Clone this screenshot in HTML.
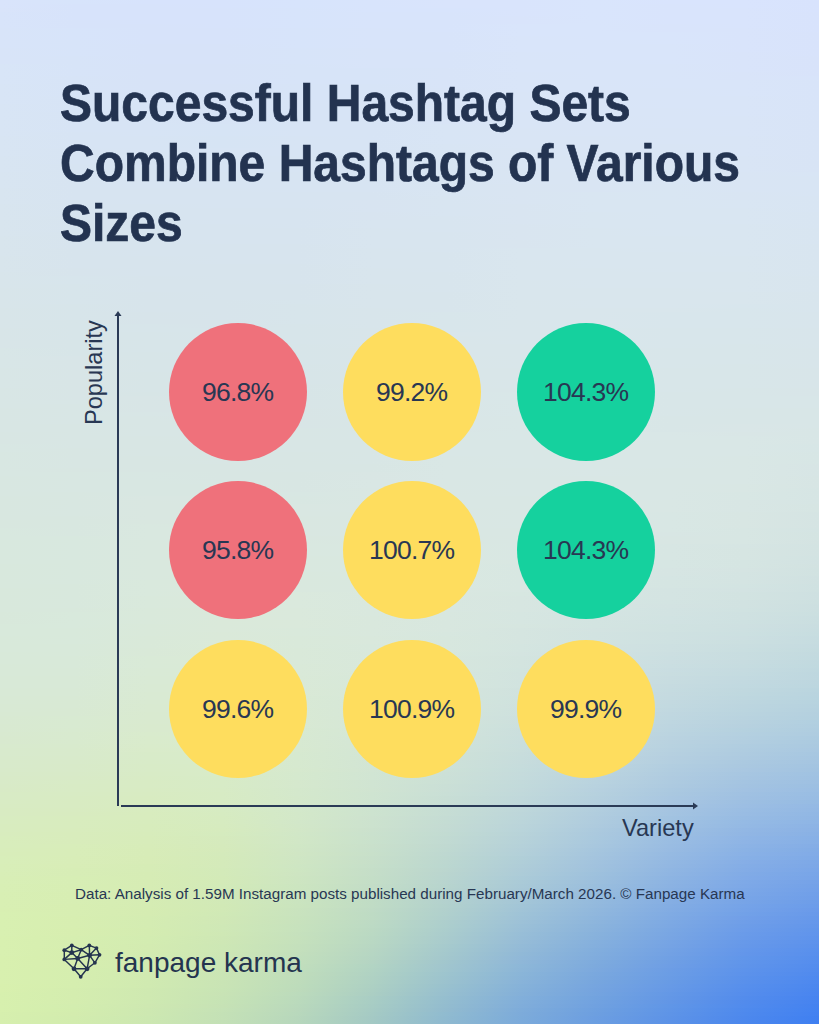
<!DOCTYPE html>
<html><head><meta charset="utf-8">
<style>
html,body{margin:0;padding:0;}
body{width:819px;height:1024px;position:relative;overflow:hidden;font-family:"Liberation Sans",sans-serif;color:#24344f;background:#d8e6e4;}
.bg{position:absolute;left:0;top:0;width:819px;height:1024px;}
.bg i{display:block;height:4px;}
.title{position:absolute;left:60px;top:74px;font-size:51px;font-weight:bold;line-height:60px;margin:0;transform:scaleX(0.941);transform-origin:0 0;white-space:nowrap;color:#233350;-webkit-text-stroke:0.7px #233350;}
.c{position:absolute;width:138px;height:138px;border-radius:50%;display:flex;align-items:center;justify-content:center;font-size:26.5px;letter-spacing:-0.8px;text-indent:-0.8px;color:#283753;}
.r{background:#ef717b}.y{background:#fedd5e}.g{background:#15d19e}
.axis{position:absolute;background:#2a3a56}
.lab{position:absolute;font-size:24px;white-space:nowrap;color:#283753;}
.foot{position:absolute;left:75px;top:885px;font-size:15.2px;white-space:nowrap;color:#283753;}
.logo{position:absolute;left:115px;top:947px;font-size:28px;white-space:nowrap;}
.icon{position:absolute;left:55px;top:935px;}
</style></head><body>
<div class="bg"><i style="background:linear-gradient(90deg,#d9e4fb,#d7e4fb,#d7e3fc,#d7e3fc,#d7e4fc,#d8e4fc,#d9e4fc,#d9e4fc,#d9e5fc,#d9e4fd,#d9e4fd,#d8e3fd)"></i><i style="background:linear-gradient(90deg,#d9e4fb,#d7e3fb,#d7e3fb,#d7e3fc,#d7e4fc,#d8e4fc,#d9e4fc,#d9e4fc,#d9e5fc,#d9e4fc,#d9e4fd,#d8e3fd)"></i><i style="background:linear-gradient(90deg,#d9e4fa,#d7e3fb,#d7e3fb,#d7e3fb,#d7e4fb,#d8e4fc,#d8e4fc,#d9e4fc,#d9e5fc,#d9e4fc,#d9e4fc,#d8e3fd)"></i><i style="background:linear-gradient(90deg,#d8e4fa,#d7e3fb,#d7e3fb,#d7e3fb,#d7e4fb,#d8e4fb,#d8e4fb,#d9e4fc,#d9e5fc,#d9e4fc,#d9e4fc,#d8e3fc)"></i><i style="background:linear-gradient(90deg,#d8e4fa,#d7e3fb,#d7e3fb,#d7e3fb,#d7e4fb,#d8e4fb,#d8e4fb,#d9e4fb,#d9e5fc,#d9e4fc,#d9e4fc,#d8e3fc)"></i><i style="background:linear-gradient(90deg,#d8e4fa,#d7e3fa,#d7e3fb,#d7e3fb,#d7e4fb,#d8e4fb,#d8e4fb,#d9e4fb,#d9e5fb,#d9e4fc,#d9e4fc,#d8e3fc)"></i><i style="background:linear-gradient(90deg,#d8e4fa,#d7e3fa,#d7e3fa,#d7e3fb,#d7e4fb,#d8e4fb,#d8e4fb,#d9e5fb,#d9e5fb,#d9e4fb,#d9e4fc,#d8e3fc)"></i><i style="background:linear-gradient(90deg,#d8e4f9,#d7e4fa,#d7e3fa,#d7e3fa,#d7e4fa,#d8e4fa,#d8e4fb,#d9e5fb,#d9e5fb,#d9e4fb,#d9e4fb,#d8e3fc)"></i><i style="background:linear-gradient(90deg,#d8e4f9,#d7e4fa,#d7e3fa,#d7e3fa,#d7e4fa,#d8e4fa,#d8e4fa,#d9e5fb,#d9e5fb,#d9e5fb,#d9e4fb,#d8e3fb)"></i><i style="background:linear-gradient(90deg,#d8e4f9,#d7e4fa,#d7e3fa,#d7e3fa,#d7e4fa,#d8e4fa,#d8e4fa,#d9e5fa,#d9e5fb,#d9e5fb,#d9e4fb,#d8e3fb)"></i><i style="background:linear-gradient(90deg,#d8e4f9,#d7e4f9,#d7e3fa,#d7e3fa,#d7e4fa,#d8e4fa,#d8e4fa,#d9e5fa,#d9e5fa,#d9e5fb,#d9e4fb,#d8e3fb)"></i><i style="background:linear-gradient(90deg,#d8e4f9,#d7e4f9,#d7e3f9,#d7e3f9,#d7e4fa,#d8e4fa,#d8e4fa,#d9e5fa,#d9e5fa,#d9e5fa,#d9e4fb,#d8e3fb)"></i><i style="background:linear-gradient(90deg,#d8e4f8,#d7e4f9,#d7e3f9,#d7e3f9,#d7e4f9,#d8e4f9,#d8e4fa,#d9e5fa,#d9e5fa,#d9e5fa,#d9e4fb,#d8e3fb)"></i><i style="background:linear-gradient(90deg,#d8e4f8,#d7e4f9,#d7e3f9,#d7e3f9,#d7e4f9,#d8e4f9,#d8e4f9,#d9e5f9,#d9e5fa,#d9e5fa,#d9e4fa,#d8e3fb)"></i><i style="background:linear-gradient(90deg,#d8e4f8,#d7e4f8,#d7e3f9,#d7e3f9,#d7e4f9,#d8e4f9,#d8e4f9,#d9e5f9,#d9e5fa,#d9e5fa,#d9e4fa,#d8e3fa)"></i><i style="background:linear-gradient(90deg,#d8e4f8,#d7e4f8,#d7e3f9,#d7e3f9,#d7e4f9,#d8e4f9,#d8e4f9,#d9e5f9,#d9e5f9,#d9e5fa,#d9e4fa,#d8e3fa)"></i><i style="background:linear-gradient(90deg,#d8e5f7,#d7e4f8,#d7e3f8,#d7e3f8,#d7e4f8,#d8e4f9,#d8e4f9,#d9e5f9,#d9e5f9,#d9e5f9,#d9e4fa,#d8e3fa)"></i><i style="background:linear-gradient(90deg,#d8e5f7,#d7e4f8,#d7e3f8,#d7e3f8,#d7e4f8,#d7e4f8,#d8e4f8,#d9e5f9,#d9e5f9,#d9e5f9,#d9e4fa,#d8e3fa)"></i><i style="background:linear-gradient(90deg,#d8e5f7,#d7e4f8,#d7e3f8,#d7e3f8,#d7e4f8,#d7e4f8,#d8e4f8,#d9e5f8,#d9e5f9,#d9e5f9,#d9e4f9,#d8e3fa)"></i><i style="background:linear-gradient(90deg,#d8e5f7,#d7e4f7,#d7e3f8,#d7e3f8,#d7e4f8,#d7e4f8,#d8e4f8,#d9e5f8,#d9e5f9,#d9e5f9,#d9e4f9,#d8e4fa)"></i><i style="background:linear-gradient(90deg,#d8e5f7,#d7e4f7,#d7e3f7,#d7e3f8,#d7e4f8,#d7e4f8,#d8e4f8,#d9e5f8,#d9e5f8,#d9e5f9,#d9e5f9,#d8e4f9)"></i><i style="background:linear-gradient(90deg,#d8e5f6,#d7e4f7,#d7e3f7,#d7e3f7,#d7e4f7,#d7e4f7,#d8e4f8,#d9e5f8,#d9e5f8,#d9e5f9,#d9e5f9,#d8e4f9)"></i><i style="background:linear-gradient(90deg,#d8e5f6,#d7e4f7,#d7e3f7,#d7e3f7,#d7e4f7,#d7e4f7,#d8e4f7,#d9e5f8,#d9e5f8,#d9e5f8,#d9e5f9,#d8e4f9)"></i><i style="background:linear-gradient(90deg,#d8e5f6,#d7e4f7,#d7e3f7,#d7e3f7,#d7e4f7,#d7e4f7,#d8e4f7,#d9e5f7,#d9e5f8,#d9e5f8,#d9e5f9,#d8e4f9)"></i><i style="background:linear-gradient(90deg,#d8e5f6,#d7e4f6,#d7e3f7,#d7e3f7,#d7e4f7,#d7e4f7,#d8e4f7,#d9e5f7,#d9e5f8,#d9e5f8,#d9e5f8,#d8e4f9)"></i><i style="background:linear-gradient(90deg,#d8e5f6,#d7e4f6,#d7e4f6,#d7e3f6,#d7e4f6,#d7e4f7,#d8e4f7,#d9e5f7,#d9e5f7,#d9e5f8,#d9e5f8,#d8e4f8)"></i><i style="background:linear-gradient(90deg,#d8e5f5,#d7e4f6,#d7e4f6,#d7e3f6,#d7e4f6,#d7e4f6,#d8e4f6,#d9e5f7,#d9e5f7,#d9e5f8,#d9e5f8,#d8e4f8)"></i><i style="background:linear-gradient(90deg,#d8e5f5,#d7e4f6,#d7e4f6,#d7e3f6,#d7e4f6,#d7e4f6,#d8e4f6,#d9e5f7,#d9e5f7,#d9e5f7,#d9e5f8,#d8e4f8)"></i><i style="background:linear-gradient(90deg,#d8e5f5,#d7e4f5,#d7e4f6,#d6e3f6,#d7e4f6,#d7e4f6,#d8e4f6,#d9e5f6,#d9e5f7,#d9e5f7,#d9e5f8,#d8e4f8)"></i><i style="background:linear-gradient(90deg,#d8e5f5,#d7e4f5,#d7e4f5,#d6e3f6,#d7e4f6,#d7e4f6,#d8e4f6,#d9e5f6,#d9e5f6,#d9e5f7,#d9e5f7,#d8e4f8)"></i><i style="background:linear-gradient(90deg,#d8e5f4,#d7e4f5,#d7e4f5,#d6e3f5,#d7e4f5,#d7e4f5,#d8e4f6,#d9e5f6,#d9e5f6,#d9e5f7,#d9e5f7,#d8e4f7)"></i><i style="background:linear-gradient(90deg,#d8e5f4,#d7e4f5,#d7e4f5,#d6e4f5,#d7e4f5,#d7e4f5,#d8e5f5,#d9e5f6,#d9e5f6,#d9e5f7,#d9e5f7,#d8e4f7)"></i><i style="background:linear-gradient(90deg,#d8e5f4,#d7e4f5,#d7e4f5,#d6e4f5,#d7e4f5,#d7e4f5,#d8e5f5,#d9e5f5,#d9e5f6,#d9e5f6,#d9e5f7,#d8e4f7)"></i><i style="background:linear-gradient(90deg,#d8e5f4,#d7e4f4,#d7e4f5,#d6e4f5,#d7e4f5,#d7e4f5,#d8e5f5,#d9e5f5,#d9e5f6,#d9e5f6,#d9e5f7,#d8e4f7)"></i><i style="background:linear-gradient(90deg,#d8e5f3,#d7e4f4,#d7e4f4,#d6e4f4,#d7e4f4,#d7e4f5,#d8e5f5,#d9e5f5,#d9e5f5,#d9e5f6,#d9e5f6,#d8e4f7)"></i><i style="background:linear-gradient(90deg,#d8e5f3,#d7e4f4,#d7e4f4,#d6e4f4,#d7e4f4,#d7e4f4,#d8e5f5,#d9e5f5,#d9e5f5,#d9e5f6,#d9e5f6,#d8e4f6)"></i><i style="background:linear-gradient(90deg,#d8e5f3,#d7e4f4,#d7e4f4,#d6e4f4,#d7e4f4,#d7e4f4,#d8e5f4,#d9e5f5,#d9e5f5,#d9e5f5,#d9e5f6,#d8e4f6)"></i><i style="background:linear-gradient(90deg,#d8e5f3,#d7e4f3,#d7e4f4,#d7e4f4,#d7e4f4,#d7e4f4,#d8e5f4,#d9e5f4,#d9e5f5,#d9e5f5,#d9e5f6,#d8e4f6)"></i><i style="background:linear-gradient(90deg,#d8e5f3,#d7e4f3,#d7e4f3,#d7e4f4,#d7e4f4,#d7e4f4,#d8e5f4,#d9e5f4,#d9e5f5,#d9e5f5,#d9e5f6,#d8e4f6)"></i><i style="background:linear-gradient(90deg,#d8e5f2,#d7e4f3,#d7e4f3,#d7e4f3,#d7e4f3,#d7e4f3,#d8e5f4,#d9e5f4,#d9e5f4,#d9e5f5,#d9e5f5,#d8e4f6)"></i><i style="background:linear-gradient(90deg,#d8e5f2,#d7e4f3,#d7e4f3,#d7e4f3,#d7e4f3,#d7e4f3,#d8e5f3,#d9e5f4,#d9e5f4,#d9e5f5,#d9e5f5,#d8e4f5)"></i><i style="background:linear-gradient(90deg,#d8e5f2,#d7e4f2,#d7e4f3,#d7e4f3,#d7e4f3,#d7e4f3,#d8e5f3,#d9e5f4,#d9e5f4,#d9e6f4,#d9e5f5,#d8e4f5)"></i><i style="background:linear-gradient(90deg,#d8e5f2,#d7e4f2,#d7e4f2,#d7e4f3,#d7e4f3,#d7e4f3,#d8e5f3,#d9e5f3,#d9e5f4,#d9e6f4,#d9e5f5,#d8e4f5)"></i><i style="background:linear-gradient(90deg,#d8e5f1,#d7e4f2,#d7e4f2,#d7e4f2,#d7e4f2,#d7e4f3,#d8e5f3,#d9e5f3,#d9e5f3,#d9e6f4,#d9e5f4,#d8e5f5)"></i><i style="background:linear-gradient(90deg,#d8e5f1,#d7e4f2,#d7e4f2,#d7e4f2,#d7e4f2,#d7e4f2,#d8e5f3,#d9e5f3,#d9e5f3,#d9e6f4,#d9e5f4,#d8e5f4)"></i><i style="background:linear-gradient(90deg,#d8e5f1,#d7e4f1,#d7e4f2,#d7e4f2,#d7e4f2,#d7e4f2,#d8e5f2,#d9e5f3,#d9e5f3,#d9e6f4,#d9e5f4,#d8e5f4)"></i><i style="background:linear-gradient(90deg,#d8e5f1,#d7e4f1,#d7e4f2,#d7e4f2,#d7e4f2,#d7e4f2,#d8e5f2,#d9e5f2,#d9e5f3,#d9e6f3,#d9e5f4,#d8e5f4)"></i><i style="background:linear-gradient(90deg,#d8e5f0,#d7e4f1,#d7e4f1,#d7e4f1,#d7e4f2,#d7e4f2,#d8e5f2,#d9e5f2,#d9e5f3,#d9e6f3,#d9e5f4,#d8e5f4)"></i><i style="background:linear-gradient(90deg,#d8e5f0,#d7e4f1,#d7e4f1,#d7e4f1,#d7e4f1,#d7e4f1,#d8e5f2,#d9e5f2,#d9e6f2,#d9e6f3,#d9e5f3,#d8e5f4)"></i><i style="background:linear-gradient(90deg,#d8e5f0,#d7e4f1,#d7e4f1,#d7e4f1,#d7e4f1,#d7e4f1,#d8e5f1,#d9e5f2,#d9e6f2,#d9e6f3,#d9e5f3,#d8e5f3)"></i><i style="background:linear-gradient(90deg,#d8e5f0,#d7e4f0,#d7e4f1,#d7e4f1,#d7e4f1,#d8e4f1,#d8e5f1,#d9e5f2,#d9e6f2,#d9e6f2,#d9e6f3,#d8e5f3)"></i><i style="background:linear-gradient(90deg,#d8e5ef,#d7e4f0,#d7e4f0,#d7e4f1,#d7e4f1,#d8e4f1,#d8e5f1,#d9e5f1,#d9e6f2,#d9e6f2,#d9e6f3,#d8e5f3)"></i><i style="background:linear-gradient(90deg,#d8e5ef,#d7e4f0,#d7e4f0,#d7e4f0,#d7e4f0,#d8e4f1,#d8e5f1,#d9e5f1,#d9e6f2,#d9e6f2,#d9e6f2,#d8e5f3)"></i><i style="background:linear-gradient(90deg,#d8e5ef,#d7e4f0,#d7e4f0,#d7e4f0,#d7e4f0,#d8e4f0,#d8e5f1,#d9e5f1,#d9e6f1,#d9e6f2,#d9e6f2,#d8e5f2)"></i><i style="background:linear-gradient(90deg,#d8e5ef,#d7e4ef,#d7e4f0,#d7e4f0,#d7e4f0,#d8e4f0,#d8e5f0,#d9e5f1,#d9e6f1,#d9e6f2,#d9e6f2,#d8e5f2)"></i><i style="background:linear-gradient(90deg,#d8e5ee,#d7e4ef,#d7e4ef,#d7e4f0,#d7e4f0,#d8e5f0,#d8e5f0,#d9e5f1,#d9e6f1,#d9e6f1,#d9e6f2,#d8e5f2)"></i><i style="background:linear-gradient(90deg,#d8e5ee,#d7e4ef,#d7e4ef,#d7e4ef,#d7e4f0,#d8e5f0,#d8e5f0,#d9e5f0,#d9e6f1,#d9e6f1,#d9e6f1,#d8e5f2)"></i><i style="background:linear-gradient(90deg,#d8e5ee,#d7e4ef,#d7e4ef,#d7e4ef,#d7e4ef,#d8e5ef,#d8e5f0,#d9e5f0,#d9e6f0,#d9e6f1,#d9e6f1,#d8e5f1)"></i><i style="background:linear-gradient(90deg,#d8e5ee,#d7e4ee,#d7e4ef,#d7e4ef,#d7e4ef,#d8e5ef,#d8e5ef,#d9e5f0,#d9e6f0,#d9e6f1,#d9e6f1,#d8e5f1)"></i><i style="background:linear-gradient(90deg,#d8e5ed,#d7e4ee,#d7e4ef,#d7e4ef,#d7e4ef,#d8e5ef,#d8e5ef,#d9e5f0,#d9e6f0,#d9e6f0,#d9e6f1,#d8e5f1)"></i><i style="background:linear-gradient(90deg,#d8e5ed,#d7e4ee,#d7e4ee,#d7e4ef,#d7e4ef,#d8e5ef,#d8e5ef,#d9e5ef,#d9e6f0,#d9e6f0,#d9e6f0,#d8e5f1)"></i><i style="background:linear-gradient(90deg,#d8e5ed,#d7e4ee,#d7e4ee,#d7e4ee,#d7e4ee,#d8e5ef,#d8e5ef,#d9e5ef,#d9e6f0,#d9e6f0,#d9e6f0,#d8e5f0)"></i><i style="background:linear-gradient(90deg,#d8e5ed,#d7e4ed,#d7e4ee,#d7e4ee,#d7e4ee,#d8e5ee,#d8e5ef,#d9e6ef,#d9e6ef,#d9e6f0,#d9e6f0,#d8e5f0)"></i><i style="background:linear-gradient(90deg,#d8e5ed,#d7e4ed,#d7e4ee,#d7e4ee,#d7e4ee,#d8e5ee,#d8e5ee,#d9e6ef,#d9e6ef,#d9e6ef,#d9e6f0,#d8e5f0)"></i><i style="background:linear-gradient(90deg,#d8e5ec,#d7e4ed,#d7e4ed,#d7e4ee,#d7e4ee,#d8e5ee,#d8e5ee,#d9e6ef,#d9e6ef,#d9e6ef,#d9e6ef,#d8e5f0)"></i><i style="background:linear-gradient(90deg,#d8e5ec,#d7e4ed,#d7e4ed,#d7e4ee,#d7e4ee,#d8e5ee,#d8e5ee,#d9e6ee,#d9e6ef,#d9e6ef,#d9e6ef,#d8e5ef)"></i><i style="background:linear-gradient(90deg,#d8e5ec,#d7e4ed,#d7e4ed,#d7e4ed,#d7e4ed,#d8e5ee,#d8e5ee,#d9e6ee,#d9e6ef,#d9e6ef,#d9e6ef,#d8e5ef)"></i><i style="background:linear-gradient(90deg,#d8e5ec,#d7e4ec,#d7e4ed,#d7e4ed,#d7e4ed,#d8e5ed,#d8e5ee,#d9e6ee,#d9e6ee,#d9e6ef,#d9e6ef,#d8e5ef)"></i><i style="background:linear-gradient(90deg,#d8e5eb,#d7e4ec,#d7e4ed,#d7e4ed,#d7e4ed,#d8e5ed,#d8e5ed,#d9e6ee,#d9e6ee,#d9e6ee,#d9e6ee,#d8e5ef)"></i><i style="background:linear-gradient(90deg,#d8e5eb,#d7e5ec,#d7e4ec,#d7e4ed,#d7e4ed,#d8e5ed,#d8e5ed,#d9e6ee,#d9e6ee,#d9e6ee,#d9e6ee,#d8e5ee)"></i><i style="background:linear-gradient(90deg,#d8e5eb,#d7e5ec,#d7e4ec,#d7e4ec,#d7e4ed,#d8e5ed,#d8e5ed,#d9e6ed,#d9e6ee,#d9e6ee,#d9e6ee,#d8e5ee)"></i><i style="background:linear-gradient(90deg,#d8e5eb,#d7e5eb,#d7e4ec,#d7e4ec,#d7e4ec,#d8e5ec,#d8e5ed,#d9e6ed,#d9e6ee,#d9e6ee,#d9e6ee,#d8e5ee)"></i><i style="background:linear-gradient(90deg,#d8e5ea,#d7e5eb,#d7e4ec,#d7e4ec,#d7e4ec,#d8e5ec,#d8e5ed,#d9e6ed,#d9e6ed,#d9e6ed,#d9e6ee,#d8e5ee)"></i><i style="background:linear-gradient(90deg,#d8e5ea,#d7e5eb,#d7e4eb,#d7e4ec,#d7e4ec,#d8e5ec,#d8e5ec,#d9e6ed,#d9e6ed,#d9e6ed,#d9e6ed,#d8e5ed)"></i><i style="background:linear-gradient(90deg,#d8e5ea,#d7e5eb,#d7e4eb,#d7e4ec,#d7e4ec,#d8e5ec,#d8e5ec,#d9e6ed,#d9e6ed,#d9e6ed,#d9e6ed,#d8e5ed)"></i><i style="background:linear-gradient(90deg,#d8e5ea,#d7e5eb,#d7e4eb,#d7e4eb,#d7e5ec,#d8e5ec,#d8e5ec,#d9e6ec,#d9e6ed,#d9e6ed,#d9e6ed,#d8e5ed)"></i><i style="background:linear-gradient(90deg,#d8e5ea,#d7e5ea,#d7e4eb,#d7e4eb,#d7e5eb,#d8e5ec,#d8e5ec,#d9e6ec,#d9e6ed,#d9e6ed,#d8e6ed,#d8e5ed)"></i><i style="background:linear-gradient(90deg,#d8e5e9,#d7e5ea,#d7e4eb,#d7e4eb,#d7e5eb,#d8e5eb,#d8e5ec,#d9e6ec,#d9e6ec,#d9e6ec,#d8e6ec,#d8e5ed)"></i><i style="background:linear-gradient(90deg,#d8e5e9,#d7e5ea,#d7e4ea,#d7e4eb,#d7e5eb,#d8e5eb,#d8e6eb,#d9e6ec,#d9e6ec,#d8e6ec,#d8e6ec,#d8e5ec)"></i><i style="background:linear-gradient(90deg,#d8e5e9,#d7e5ea,#d7e4ea,#d7e4eb,#d7e5eb,#d8e5eb,#d8e6eb,#d9e6ec,#d9e6ec,#d8e6ec,#d8e6ec,#d8e5ec)"></i><i style="background:linear-gradient(90deg,#d8e5e9,#d7e5e9,#d7e4ea,#d7e4ea,#d7e5eb,#d8e5eb,#d8e6eb,#d9e6eb,#d9e6ec,#d8e6ec,#d8e6ec,#d8e5ec)"></i><i style="background:linear-gradient(90deg,#d8e5e9,#d7e5e9,#d7e5ea,#d7e4ea,#d7e5ea,#d8e5eb,#d8e6eb,#d9e6eb,#d9e6ec,#d8e6ec,#d8e6ec,#d8e5ec)"></i><i style="background:linear-gradient(90deg,#d8e5e8,#d7e5e9,#d7e5ea,#d7e5ea,#d7e5ea,#d8e5ea,#d8e6eb,#d9e6eb,#d9e6eb,#d8e6eb,#d8e6eb,#d8e5eb)"></i><i style="background:linear-gradient(90deg,#d8e5e8,#d7e5e9,#d7e5e9,#d7e5ea,#d7e5ea,#d8e5ea,#d9e6eb,#d9e6eb,#d9e6eb,#d8e6eb,#d8e6eb,#d8e5eb)"></i><i style="background:linear-gradient(90deg,#d8e5e8,#d7e5e9,#d7e5e9,#d7e5ea,#d7e5ea,#d8e5ea,#d9e6ea,#d9e6eb,#d9e6eb,#d8e6eb,#d8e6eb,#d8e5eb)"></i><i style="background:linear-gradient(90deg,#d8e5e8,#d7e5e8,#d7e5e9,#d7e5e9,#d7e5ea,#d8e5ea,#d9e6ea,#d9e6eb,#d9e6eb,#d8e6eb,#d8e6eb,#d8e5eb)"></i><i style="background:linear-gradient(90deg,#d8e5e8,#d7e5e8,#d7e5e9,#d7e5e9,#d7e5e9,#d8e5ea,#d9e6ea,#d9e6ea,#d9e6eb,#d8e6eb,#d8e6ea,#d8e5eb)"></i><i style="background:linear-gradient(90deg,#d8e6e7,#d7e5e8,#d7e5e9,#d7e5e9,#d7e5e9,#d8e5e9,#d9e6ea,#d9e6ea,#d9e6ea,#d8e6ea,#d8e6ea,#d8e5ea)"></i><i style="background:linear-gradient(90deg,#d8e6e7,#d7e5e8,#d7e5e8,#d7e5e9,#d7e5e9,#d8e5e9,#d9e6ea,#d9e6ea,#d9e6ea,#d8e6ea,#d8e6ea,#d8e5ea)"></i><i style="background:linear-gradient(90deg,#d8e6e7,#d8e5e8,#d7e5e8,#d7e5e9,#d7e5e9,#d8e5e9,#d9e6e9,#d9e6ea,#d9e6ea,#d8e6ea,#d8e6ea,#d8e5ea)"></i><i style="background:linear-gradient(90deg,#d8e6e7,#d8e5e7,#d7e5e8,#d7e5e8,#d7e5e9,#d8e5e9,#d9e6e9,#d9e6ea,#d9e6ea,#d8e6ea,#d8e6ea,#d8e5ea)"></i><i style="background:linear-gradient(90deg,#d8e6e7,#d8e5e7,#d7e5e8,#d7e5e8,#d7e5e8,#d8e5e9,#d9e6e9,#d9e6ea,#d9e6ea,#d8e6ea,#d8e6e9,#d8e5ea)"></i><i style="background:linear-gradient(90deg,#d8e6e6,#d8e5e7,#d7e5e8,#d7e5e8,#d7e5e8,#d8e5e9,#d9e6e9,#d9e6e9,#d9e6ea,#d8e6e9,#d8e6e9,#d8e5e9)"></i><i style="background:linear-gradient(90deg,#d8e6e6,#d8e5e7,#d7e5e7,#d7e5e8,#d7e5e8,#d8e5e8,#d9e6e9,#d9e6e9,#d9e6e9,#d8e6e9,#d8e6e9,#d8e5e9)"></i><i style="background:linear-gradient(90deg,#d8e6e6,#d8e5e7,#d7e5e7,#d7e5e8,#d7e5e8,#d8e5e8,#d9e6e9,#d9e6e9,#d9e6e9,#d8e6e9,#d8e6e9,#d8e5e9)"></i><i style="background:linear-gradient(90deg,#d8e6e6,#d8e5e6,#d7e5e7,#d7e5e7,#d7e5e8,#d8e5e8,#d9e6e8,#d9e6e9,#d9e6e9,#d8e6e9,#d8e6e9,#d8e5e9)"></i><i style="background:linear-gradient(90deg,#d8e6e6,#d8e5e6,#d7e5e7,#d7e5e7,#d7e5e7,#d8e5e8,#d9e6e8,#d9e6e9,#d9e6e9,#d8e6e9,#d8e6e9,#d8e5e9)"></i><i style="background:linear-gradient(90deg,#d8e6e5,#d8e5e6,#d7e5e7,#d7e5e7,#d7e5e7,#d8e6e8,#d9e6e8,#d9e6e8,#d9e6e9,#d8e6e9,#d8e6e8,#d8e5e8)"></i><i style="background:linear-gradient(90deg,#d8e6e5,#d8e5e6,#d7e5e6,#d7e5e7,#d7e5e7,#d8e6e7,#d9e6e8,#d9e7e8,#d9e6e9,#d8e6e8,#d8e6e8,#d8e5e8)"></i><i style="background:linear-gradient(90deg,#d8e6e5,#d8e5e6,#d8e5e6,#d7e5e7,#d7e5e7,#d8e6e7,#d9e6e8,#d9e7e8,#d9e7e8,#d8e6e8,#d8e6e8,#d8e6e8)"></i><i style="background:linear-gradient(90deg,#d8e6e5,#d8e6e6,#d8e5e6,#d7e5e6,#d8e5e7,#d8e6e7,#d9e6e8,#d9e7e8,#d9e7e8,#d8e6e8,#d8e6e8,#d8e6e8)"></i><i style="background:linear-gradient(90deg,#d8e6e5,#d8e6e5,#d8e5e6,#d7e5e6,#d8e5e7,#d8e6e7,#d9e6e7,#d9e7e8,#d9e7e8,#d8e6e8,#d8e6e8,#d8e6e8)"></i><i style="background:linear-gradient(90deg,#d8e6e4,#d8e6e5,#d8e5e6,#d8e5e6,#d8e5e6,#d8e6e7,#d9e6e7,#d9e7e8,#d9e7e8,#d8e6e8,#d8e6e7,#d8e6e7)"></i><i style="background:linear-gradient(90deg,#d8e6e4,#d8e6e5,#d8e6e6,#d8e5e6,#d8e5e6,#d8e6e7,#d9e6e7,#d9e7e8,#d9e7e8,#d8e6e8,#d8e6e7,#d8e6e7)"></i><i style="background:linear-gradient(90deg,#d8e6e4,#d8e6e5,#d8e6e5,#d8e5e6,#d8e5e6,#d8e6e6,#d9e6e7,#d9e7e7,#d9e7e8,#d8e6e7,#d8e6e7,#d8e6e7)"></i><i style="background:linear-gradient(90deg,#d8e6e4,#d8e6e5,#d8e6e5,#d8e6e6,#d8e5e6,#d8e6e6,#d9e6e7,#d9e7e7,#d9e7e7,#d8e6e7,#d8e6e7,#d8e6e7)"></i><i style="background:linear-gradient(90deg,#d8e6e4,#d8e6e4,#d8e6e5,#d8e6e5,#d8e5e6,#d8e6e6,#d9e6e7,#d9e7e7,#d9e7e7,#d8e6e7,#d9e6e7,#d8e6e7)"></i><i style="background:linear-gradient(90deg,#d8e6e4,#d8e6e4,#d8e6e5,#d8e6e5,#d8e6e5,#d8e6e6,#d9e6e6,#d9e7e7,#d9e7e7,#d8e6e7,#d9e6e7,#d8e6e6)"></i><i style="background:linear-gradient(90deg,#d8e6e3,#d8e6e4,#d8e6e5,#d8e6e5,#d8e6e5,#d8e6e6,#d9e7e6,#d9e7e7,#d9e7e7,#d9e7e7,#d9e6e6,#d8e6e6)"></i><i style="background:linear-gradient(90deg,#d8e6e3,#d8e6e4,#d8e6e4,#d8e6e5,#d8e6e5,#d8e6e6,#d9e7e6,#d9e7e7,#d9e7e7,#d9e7e7,#d9e7e6,#d8e6e6)"></i><i style="background:linear-gradient(90deg,#d8e6e3,#d8e6e4,#d8e6e4,#d8e6e5,#d8e6e5,#d8e6e5,#d9e7e6,#d9e7e6,#d9e7e7,#d9e7e6,#d9e7e6,#d8e6e6)"></i><i style="background:linear-gradient(90deg,#d8e7e3,#d8e6e4,#d8e6e4,#d8e6e4,#d8e6e5,#d8e6e5,#d9e7e6,#d9e7e6,#d9e7e6,#d9e7e6,#d9e7e6,#d7e6e6)"></i><i style="background:linear-gradient(90deg,#d8e7e3,#d8e6e3,#d8e6e4,#d8e6e4,#d8e6e5,#d8e6e5,#d9e7e6,#d9e7e6,#d9e7e6,#d9e7e6,#d9e7e6,#d7e6e6)"></i><i style="background:linear-gradient(90deg,#d8e7e2,#d8e6e3,#d8e6e4,#d8e6e4,#d8e6e4,#d8e6e5,#d9e7e6,#d9e7e6,#d9e7e6,#d9e7e6,#d9e7e6,#d7e6e5)"></i><i style="background:linear-gradient(90deg,#d8e7e2,#d8e6e3,#d8e6e3,#d8e6e4,#d8e6e4,#d8e6e5,#d9e7e5,#d9e7e6,#d9e7e6,#d9e7e6,#d9e7e5,#d7e6e5)"></i><i style="background:linear-gradient(90deg,#d8e7e2,#d8e6e3,#d8e6e3,#d8e6e4,#d8e6e4,#d8e6e5,#d9e7e5,#d9e7e6,#d9e7e6,#d9e7e6,#d9e7e5,#d7e6e5)"></i><i style="background:linear-gradient(90deg,#d8e7e2,#d8e6e3,#d8e6e3,#d8e6e3,#d8e6e4,#d8e6e4,#d9e7e5,#d9e7e6,#d9e7e6,#d9e7e6,#d9e7e5,#d7e5e5)"></i><i style="background:linear-gradient(90deg,#d8e7e2,#d8e6e2,#d8e6e3,#d8e6e3,#d8e6e4,#d8e6e4,#d9e7e5,#d9e7e5,#d9e7e6,#d9e7e5,#d9e7e5,#d7e5e5)"></i><i style="background:linear-gradient(90deg,#d8e7e2,#d8e7e2,#d8e7e3,#d8e6e3,#d8e6e3,#d9e6e4,#d9e7e5,#d9e7e5,#d9e7e6,#d9e7e5,#d9e7e5,#d7e5e5)"></i><i style="background:linear-gradient(90deg,#d8e7e1,#d8e7e2,#d8e7e3,#d8e6e3,#d8e6e3,#d9e6e4,#d9e7e5,#d9e7e5,#d9e7e5,#d9e7e5,#d9e7e5,#d7e5e4)"></i><i style="background:linear-gradient(90deg,#d8e7e1,#d8e7e2,#d8e7e2,#d8e7e3,#d8e6e3,#d9e7e4,#d9e7e4,#d9e7e5,#d9e7e5,#d9e7e5,#d9e7e5,#d7e5e4)"></i><i style="background:linear-gradient(90deg,#d8e7e1,#d8e7e2,#d8e7e2,#d8e7e2,#d8e6e3,#d9e7e4,#d9e7e4,#d9e7e5,#d9e7e5,#d9e7e5,#d9e7e4,#d7e5e4)"></i><i style="background:linear-gradient(90deg,#d8e7e1,#d8e7e2,#d8e7e2,#d8e7e2,#d8e6e3,#d9e7e3,#d9e7e4,#d9e7e5,#d9e7e5,#d9e7e5,#d9e7e4,#d6e5e4)"></i><i style="background:linear-gradient(90deg,#d8e7e1,#d8e7e1,#d8e7e2,#d8e7e2,#d8e7e3,#d9e7e3,#d9e7e4,#d9e7e5,#d9e7e5,#d9e7e5,#d8e7e4,#d6e5e4)"></i><i style="background:linear-gradient(90deg,#d8e7e0,#d8e7e1,#d9e7e2,#d9e7e2,#d8e7e2,#d9e7e3,#d9e7e4,#d9e7e4,#d9e7e5,#d9e7e5,#d8e7e4,#d6e5e4)"></i><i style="background:linear-gradient(90deg,#d8e7e0,#d8e7e1,#d9e7e1,#d9e7e2,#d8e7e2,#d9e7e3,#d9e7e4,#d9e7e4,#d9e7e5,#d9e7e4,#d8e6e4,#d6e5e4)"></i><i style="background:linear-gradient(90deg,#d8e7e0,#d8e7e1,#d9e7e1,#d9e7e1,#d9e7e2,#d9e7e3,#d9e7e4,#d9e7e4,#d9e7e5,#d9e7e4,#d8e6e4,#d6e5e3)"></i><i style="background:linear-gradient(90deg,#d8e7e0,#d8e7e1,#d9e7e1,#d9e7e1,#d9e7e2,#d9e7e3,#d9e7e3,#d9e7e4,#d9e7e4,#d9e7e4,#d8e6e4,#d6e5e3)"></i><i style="background:linear-gradient(90deg,#d8e7e0,#d8e7e1,#d9e7e1,#d9e7e1,#d9e7e2,#d9e7e2,#d9e7e3,#d9e7e4,#d9e7e4,#d8e7e4,#d8e6e3,#d5e4e3)"></i><i style="background:linear-gradient(90deg,#d8e7e0,#d8e7e0,#d9e7e1,#d9e7e1,#d9e7e1,#d9e7e2,#d9e7e3,#d9e7e4,#d9e7e4,#d8e7e4,#d8e6e3,#d5e4e3)"></i><i style="background:linear-gradient(90deg,#d8e7df,#d8e7e0,#d9e7e0,#d9e7e1,#d9e7e1,#d9e7e2,#d9e7e3,#d9e7e4,#d9e7e4,#d8e7e4,#d8e6e3,#d5e4e3)"></i><i style="background:linear-gradient(90deg,#d8e7df,#d8e7e0,#d9e8e0,#d9e7e0,#d9e7e1,#d9e7e2,#d9e7e3,#d9e7e4,#d9e7e4,#d8e7e4,#d8e6e3,#d5e4e3)"></i><i style="background:linear-gradient(90deg,#d8e8df,#d8e7e0,#d9e8e0,#d9e8e0,#d9e7e1,#d9e7e2,#d9e7e3,#d9e7e3,#d9e7e4,#d8e7e4,#d7e6e3,#d4e4e3)"></i><i style="background:linear-gradient(90deg,#d8e8df,#d8e7e0,#d9e8e0,#d9e8e0,#d9e7e1,#d9e7e2,#d9e7e3,#d9e7e3,#d8e7e4,#d8e6e4,#d7e6e3,#d4e4e2)"></i><i style="background:linear-gradient(90deg,#d8e8df,#d8e8df,#d9e8e0,#d9e8e0,#d9e7e0,#d9e7e1,#d9e7e2,#d9e7e3,#d8e7e4,#d8e6e3,#d7e6e3,#d4e4e2)"></i><i style="background:linear-gradient(90deg,#d8e8de,#d8e8df,#d9e8df,#d9e8e0,#d9e8e0,#d9e7e1,#d9e7e2,#d9e7e3,#d8e7e3,#d8e6e3,#d7e6e3,#d4e3e2)"></i><i style="background:linear-gradient(90deg,#d8e8de,#d8e8df,#d9e8df,#d9e8df,#d9e8e0,#d9e8e1,#d9e8e2,#d9e7e3,#d8e7e3,#d7e6e3,#d6e5e3,#d3e3e2)"></i><i style="background:linear-gradient(90deg,#d8e8de,#d8e8df,#d9e8df,#d9e8df,#d9e8e0,#d9e8e1,#d9e8e2,#d9e7e3,#d8e7e3,#d7e6e3,#d6e5e2,#d3e3e2)"></i><i style="background:linear-gradient(90deg,#d8e8de,#d8e8df,#d9e8df,#d9e8df,#d9e8e0,#d9e8e1,#d9e8e2,#d9e7e3,#d8e7e3,#d7e6e3,#d6e5e2,#d3e3e2)"></i><i style="background:linear-gradient(90deg,#d8e8de,#d8e8df,#d9e8df,#d9e8df,#d9e8df,#d9e8e0,#d9e8e2,#d9e7e3,#d8e6e3,#d7e6e3,#d6e5e2,#d2e3e2)"></i><i style="background:linear-gradient(90deg,#d8e8de,#d8e8de,#d9e8de,#d9e8de,#d9e8df,#d9e8e0,#d9e8e1,#d9e7e2,#d7e6e3,#d6e6e3,#d5e5e2,#d2e2e2)"></i><i style="background:linear-gradient(90deg,#d8e8dd,#d8e8de,#d9e8de,#d9e8de,#d9e8df,#d9e8e0,#d9e8e1,#d8e7e2,#d7e6e3,#d6e6e3,#d5e5e2,#d2e2e1)"></i><i style="background:linear-gradient(90deg,#d8e8dd,#d8e8de,#d9e8de,#d9e8de,#d9e8df,#d9e8e0,#d9e8e1,#d8e7e2,#d7e6e3,#d6e5e3,#d5e4e2,#d1e2e1)"></i><i style="background:linear-gradient(90deg,#d8e8dd,#d8e8de,#d9e8de,#d9e8de,#d9e8de,#d9e8e0,#d9e8e1,#d8e7e2,#d7e6e3,#d6e5e3,#d4e4e2,#d1e2e1)"></i><i style="background:linear-gradient(90deg,#d8e8dd,#d8e8de,#d9e8de,#d9e8dd,#d9e8de,#d9e8df,#d9e8e1,#d8e7e2,#d7e6e3,#d5e5e3,#d4e4e2,#d0e1e1)"></i><i style="background:linear-gradient(90deg,#d8e8dd,#d8e8de,#d9e9dd,#d9e9dd,#d9e8de,#d9e8df,#d9e8e1,#d8e7e2,#d6e6e2,#d5e5e2,#d4e4e2,#d0e1e1)"></i><i style="background:linear-gradient(90deg,#d8e8dd,#d8e8dd,#d9e9dd,#dae9dd,#d9e8de,#d9e8df,#d9e8e1,#d8e7e2,#d6e6e2,#d5e5e2,#d3e4e2,#cfe1e1)"></i><i style="background:linear-gradient(90deg,#d8e8dc,#d8e8dd,#d9e9dd,#dae9dd,#d9e8de,#d9e8df,#d9e7e0,#d8e7e2,#d6e5e2,#d4e4e2,#d3e3e2,#cfe1e1)"></i><i style="background:linear-gradient(90deg,#d8e8dc,#d8e8dd,#d9e9dd,#dae9dc,#dae9dd,#d9e8df,#d9e7e0,#d7e7e1,#d6e5e2,#d4e4e2,#d2e3e1,#cee0e1)"></i><i style="background:linear-gradient(90deg,#d8e8dc,#d8e8dd,#d9e9dc,#dae9dc,#dae9dd,#d9e8df,#d9e7e0,#d7e6e1,#d5e5e2,#d4e4e2,#d2e3e1,#cee0e1)"></i><i style="background:linear-gradient(90deg,#d8e8dc,#d8e8dd,#d9e9dc,#dae9dc,#dae9dd,#d9e8de,#d8e7e0,#d7e6e1,#d5e5e2,#d3e4e2,#d1e2e1,#cde0e0)"></i><i style="background:linear-gradient(90deg,#d8e8dc,#d8e8dd,#d9e9dc,#dae9dc,#dae9dd,#d9e8de,#d8e7e0,#d7e6e1,#d5e5e2,#d3e3e2,#d1e2e1,#ccdfe0)"></i><i style="background:linear-gradient(90deg,#d8e8dc,#d8e8dc,#d9e9db,#dae9db,#dae9dc,#d9e8de,#d8e7e0,#d7e6e1,#d4e5e2,#d2e3e2,#d0e2e1,#ccdfe0)"></i><i style="background:linear-gradient(90deg,#d8e8db,#d8e9dc,#d9e9db,#dae9db,#dae9dc,#d9e8de,#d8e7df,#d6e6e1,#d4e4e2,#d2e3e2,#cfe1e1,#cbdfe0)"></i><i style="background:linear-gradient(90deg,#d8e8db,#d8e9dc,#d9e9db,#dae9db,#dae9dc,#d9e8dd,#d8e7df,#d6e6e1,#d4e4e1,#d1e3e2,#cfe1e1,#cadee0)"></i><i style="background:linear-gradient(90deg,#d8e8db,#d8e9dc,#d9e9db,#dae9da,#dae9db,#d9e8dd,#d8e7df,#d6e6e1,#d3e4e1,#d1e2e2,#cee1e1,#cadee0)"></i><i style="background:linear-gradient(90deg,#d8e9db,#d8e9dc,#d9e9da,#dae9da,#dae9db,#d9e8dd,#d8e7df,#d6e6e0,#d3e4e1,#d0e2e1,#cee0e1,#c9dde0)"></i><i style="background:linear-gradient(90deg,#d8e9db,#d8e9db,#d9e9da,#dae9da,#d9e9db,#d9e8dd,#d8e7df,#d5e5e0,#d3e3e1,#d0e2e1,#cde0e1,#c8dde0)"></i><i style="background:linear-gradient(90deg,#d8e9db,#d8e9db,#d9e9da,#dae9d9,#d9e9db,#d9e8dd,#d7e7df,#d5e5e0,#d2e3e1,#cfe1e1,#cce0e1,#c7dde0)"></i><i style="background:linear-gradient(90deg,#d8e9da,#d8e9db,#d9e9d9,#dae9d9,#d9e9da,#d9e8dc,#d7e7de,#d5e5e0,#d2e3e1,#cfe1e1,#ccdfe1,#c6dce0)"></i><i style="background:linear-gradient(90deg,#d8e9da,#d8e9db,#d9e9d9,#daead9,#d9e9da,#d9e8dc,#d7e7de,#d5e5e0,#d1e3e1,#cee1e1,#cbdfe0,#c6dce0)"></i><i style="background:linear-gradient(90deg,#d8e9da,#d8e9da,#d9e9d9,#daead8,#d9e9da,#d8e8dc,#d7e7de,#d4e5e0,#d1e2e1,#cde0e1,#cadee0,#c5dbe0)"></i><i style="background:linear-gradient(90deg,#d8e9da,#d8e9da,#d9e9d8,#daead8,#d9e9d9,#d8e8dc,#d7e7de,#d4e5e0,#d0e2e1,#cde0e1,#c9dee0,#c4dbdf)"></i><i style="background:linear-gradient(90deg,#d8e9d9,#d8e9da,#d9e9d8,#daead7,#d9e9d9,#d8e8db,#d6e7de,#d4e4e0,#d0e2e1,#ccdfe1,#c8dde0,#c3dadf)"></i><i style="background:linear-gradient(90deg,#d8e9d9,#d8e9d9,#d9ead7,#daead7,#d9e9d9,#d8e8db,#d6e6de,#d3e4df,#cfe2e1,#cbdfe1,#c8dde0,#c2dadf)"></i><i style="background:linear-gradient(90deg,#d8e9d9,#d8e9d9,#d9ead7,#daead7,#d9e9d9,#d8e8db,#d6e6dd,#d3e4df,#cfe1e0,#cbdee1,#c7dce0,#c1d9df)"></i><i style="background:linear-gradient(90deg,#d8e9d8,#d8e9d9,#d9ead7,#d9ead6,#d9e9d8,#d8e8db,#d6e6dd,#d3e4df,#cee1e0,#cadee1,#c6dce0,#c0d9df)"></i><i style="background:linear-gradient(90deg,#d8e9d8,#d8e9d8,#d9ead6,#d9ead6,#d9e9d8,#d8e8db,#d6e6dd,#d2e4df,#cee1e0,#c9dde1,#c5dbe0,#bfd8df)"></i><i style="background:linear-gradient(90deg,#d8e9d8,#d8e9d8,#d9ead6,#d9ead5,#d9e9d8,#d8e8da,#d5e6dd,#d2e3df,#cde0e0,#c9dde0,#c4dbe0,#bed7df)"></i><i style="background:linear-gradient(90deg,#d8e9d7,#d8e9d7,#d9ead5,#d9ead5,#d9e9d7,#d7e8da,#d5e6dd,#d2e3df,#cde0e0,#c8dce0,#c3dae0,#bed7df)"></i><i style="background:linear-gradient(90deg,#d8e9d7,#d8e9d7,#d9ead5,#d9ead5,#d9e9d7,#d7e8da,#d5e6dc,#d1e3df,#ccdfe0,#c7dce0,#c2d9e0,#bdd6df)"></i><i style="background:linear-gradient(90deg,#d8e9d7,#d8e9d7,#d9ead4,#d9ead4,#d9e9d7,#d7e8d9,#d5e6dc,#d1e3df,#ccdfe0,#c6dbe0,#c1d9e0,#bcd6df)"></i><i style="background:linear-gradient(90deg,#d8e9d6,#d8e9d6,#d9ead4,#d9ead4,#d9e9d6,#d7e8d9,#d4e5dc,#d0e2de,#cbdfe0,#c5dbe0,#c0d8df,#bad5df)"></i><i style="background:linear-gradient(90deg,#d8e9d6,#d8e9d6,#d9ead3,#d9ead3,#d9e9d6,#d7e8d9,#d4e5dc,#d0e2de,#cadee0,#c5dae0,#bfd8df,#b9d4df)"></i><i style="background:linear-gradient(90deg,#d8e9d5,#d8e9d5,#d9ead3,#d9ead3,#d8e9d5,#d7e8d9,#d4e5dc,#cfe2de,#cadee0,#c4dae0,#bed7df,#b8d4df)"></i><i style="background:linear-gradient(90deg,#d8e9d5,#d8e9d4,#d9ead2,#d9ead2,#d8e9d5,#d6e7d8,#d3e5db,#cfe2de,#c9dde0,#c3d9e0,#bdd6df,#b7d3df)"></i><i style="background:linear-gradient(90deg,#d8e9d4,#d8e9d4,#d9ead1,#d9ead2,#d8e9d5,#d6e7d8,#d3e5db,#cfe1de,#c8dde0,#c2d9e0,#bcd5df,#b6d2df)"></i><i style="background:linear-gradient(90deg,#d8e9d4,#d8e9d3,#d9ead1,#d9ead1,#d8e9d4,#d6e7d8,#d3e5db,#cee1de,#c8dcdf,#c1d8e0,#bbd5df,#b5d1df)"></i><i style="background:linear-gradient(90deg,#d8e9d3,#d8e9d3,#d9ead0,#d9ead1,#d8e9d4,#d6e7d8,#d2e4db,#cee1de,#c7dcdf,#c0d7e0,#bad4df,#b4d0df)"></i><i style="background:linear-gradient(90deg,#d8e9d2,#d8ead2,#d9ead0,#d9ead0,#d8e9d4,#d6e7d7,#d2e4db,#cde0de,#c6dcdf,#bfd7e0,#b9d3df,#b3d0df)"></i><i style="background:linear-gradient(90deg,#d8e9d2,#d8ead1,#d9eacf,#d9ead0,#d8e9d3,#d5e7d7,#d2e4da,#cde0dd,#c6dbdf,#bed6e0,#b8d2df,#b1cfe0)"></i><i style="background:linear-gradient(90deg,#d8e9d1,#d8ead1,#d9eace,#d9eacf,#d8e9d3,#d5e7d7,#d1e4da,#cce0dd,#c5dbdf,#bdd5e0,#b7d1df,#b0cee0)"></i><i style="background:linear-gradient(90deg,#d8e9d1,#d8ead0,#d9eace,#d9eace,#d7e9d2,#d5e7d6,#d1e4da,#cbdfdd,#c4dadf,#bcd5e0,#b5d1df,#afcde0)"></i><i style="background:linear-gradient(90deg,#d8e9d0,#d8eacf,#d9ebcd,#d9eace,#d7e9d2,#d4e7d6,#d1e3da,#cbdfdd,#c3dadf,#bbd4e0,#b4d0e0,#aecce0)"></i><i style="background:linear-gradient(90deg,#d8e9cf,#d8eacf,#d9ebcc,#d9ebcd,#d7e9d2,#d4e6d6,#d0e3d9,#cadfdd,#c3d9df,#bad3e0,#b3cfe0,#accbe0)"></i><i style="background:linear-gradient(90deg,#d8e9cf,#d8eace,#d9ebcc,#d8ebcd,#d7e9d1,#d4e6d6,#d0e3d9,#cadedd,#c2d9df,#b9d2e0,#b2cee0,#abcae0)"></i><i style="background:linear-gradient(90deg,#d8eace,#d8eacd,#d9ebcb,#d8ebcc,#d7e9d1,#d4e6d5,#cfe3d9,#c9dedd,#c1d8df,#b8d2e0,#b0cde0,#aac9e0)"></i><i style="background:linear-gradient(90deg,#d8eacd,#d8eacc,#d9ebca,#d8ebcb,#d7e9d0,#d3e6d5,#cfe2d9,#c9dedc,#c0d7df,#b7d1e0,#afcce0,#a9c8e1)"></i><i style="background:linear-gradient(90deg,#d8eacd,#d8eacc,#d8ebc9,#d8ebcb,#d6e9d0,#d3e6d5,#cee2d8,#c8dddc,#bfd7df,#b6d0e0,#aecbe0,#a7c7e1)"></i><i style="background:linear-gradient(90deg,#d8eacc,#d8eacb,#d8ebc9,#d8ebca,#d6e9d0,#d3e6d4,#cee2d8,#c7dddc,#bed6df,#b5cfe0,#adcae0,#a6c6e1)"></i><i style="background:linear-gradient(90deg,#d8eacb,#d8eaca,#d8ebc8,#d8ebca,#d6e9cf,#d2e5d4,#cde1d8,#c7dcdc,#bed6df,#b4cfe0,#abc9e0,#a5c5e1)"></i><i style="background:linear-gradient(90deg,#d8eacb,#d8eac9,#d8ebc7,#d8ebc9,#d6e9cf,#d2e5d4,#cde1d8,#c6dcdc,#bdd5df,#b2cee0,#aac8e0,#a3c4e1)"></i><i style="background:linear-gradient(90deg,#d8eaca,#d8eac9,#d8ebc7,#d8ebc8,#d6e9ce,#d2e5d3,#cce1d7,#c5dcdc,#bcd5df,#b1cde0,#a9c7e1,#a2c3e1)"></i><i style="background:linear-gradient(90deg,#d8eac9,#d8eac8,#d8ebc6,#d8ebc8,#d5e9ce,#d1e5d3,#cce0d7,#c5dbdc,#bbd4df,#b0cce0,#a7c6e1,#a0c2e2)"></i><i style="background:linear-gradient(90deg,#d8eac8,#d8eac7,#d8ebc5,#d7ebc7,#d5e9ce,#d1e5d3,#cbe0d7,#c4dbdc,#bad3df,#afcbe0,#a6c5e1,#9fc1e2)"></i><i style="background:linear-gradient(90deg,#d8eac8,#d8ebc6,#d8ebc4,#d7ebc6,#d5e8cd,#d0e4d2,#cbe0d6,#c3dadb,#b9d3df,#aecbe0,#a4c4e1,#9ec0e2)"></i><i style="background:linear-gradient(90deg,#d8eac7,#d8ebc5,#d8ebc4,#d7ebc6,#d5e8cd,#d0e4d2,#cadfd6,#c2dadb,#b8d2df,#adcae0,#a3c3e1,#9cbfe2)"></i><i style="background:linear-gradient(90deg,#d8eac6,#d8ebc5,#d8ebc3,#d7ebc5,#d4e8cc,#d0e4d1,#cadfd6,#c2d9db,#b7d1df,#abc9e0,#a2c2e2,#9bbee3)"></i><i style="background:linear-gradient(90deg,#d8ebc5,#d8ebc4,#d8ebc2,#d7ebc4,#d4e8cc,#cfe4d1,#c9dfd6,#c1d9db,#b6d1de,#aac8e0,#a0c1e2,#99bde3)"></i><i style="background:linear-gradient(90deg,#d8ebc5,#d8ebc3,#d8ebc1,#d7ebc4,#d4e8cb,#cfe4d1,#c8ded5,#c0d8db,#b5d0de,#a9c7e1,#9fc0e2,#98bce3)"></i><i style="background:linear-gradient(90deg,#d8ebc4,#d8ebc2,#d8ecc1,#d7ebc3,#d4e8cb,#cee3d0,#c8ded5,#bfd8db,#b4cfde,#a8c6e1,#9dbfe2,#96bbe3)"></i><i style="background:linear-gradient(90deg,#d8ebc3,#d8ebc2,#d8ecc0,#d7ebc2,#d3e8ca,#cee3d0,#c7ded5,#bed7db,#b3cfde,#a6c5e1,#9cbee3,#94b9e4)"></i><i style="background:linear-gradient(90deg,#d8ebc2,#d8ebc1,#d8ecbf,#d6ebc2,#d3e8ca,#cde3cf,#c6ddd4,#bed7da,#b2cede,#a5c4e1,#9abde3,#93b8e4)"></i><i style="background:linear-gradient(90deg,#d8ebc2,#d8ebc0,#d8ecbe,#d6ebc1,#d3e8c9,#cde3cf,#c6ddd4,#bdd6da,#b1cdde,#a4c4e1,#99bce3,#91b7e4)"></i><i style="background:linear-gradient(90deg,#d8ecc1,#d8ecbf,#d8ecbe,#d6ebc0,#d3e8c9,#cde2cf,#c5dcd4,#bcd6da,#b0ccde,#a2c3e1,#97bbe3,#90b6e4)"></i><i style="background:linear-gradient(90deg,#d8ecc0,#d8ecbe,#d7ecbd,#d6ebc0,#d2e7c9,#cce2ce,#c4dcd3,#bbd5da,#afccde,#a1c2e1,#95bae4,#8eb5e5)"></i><i style="background:linear-gradient(90deg,#d8ecbf,#d8ecbe,#d7ecbc,#d6ebbf,#d2e7c8,#cce2ce,#c4dbd3,#bad4da,#aecbde,#a0c1e1,#94b9e4,#8cb3e5)"></i><i style="background:linear-gradient(90deg,#d8ecbf,#d8ecbd,#d7ecbc,#d6ebbe,#d2e7c7,#cbe1cd,#c3dbd3,#b9d4da,#accade,#9ec0e1,#92b7e4,#8bb2e5)"></i><i style="background:linear-gradient(90deg,#d8ecbe,#d8ecbc,#d7ecbb,#d5ebbe,#d1e7c7,#cae1cd,#c2dbd2,#b8d3d9,#abc9de,#9dbfe1,#91b6e4,#89b1e5)"></i><i style="background:linear-gradient(90deg,#d8edbd,#d8ecbc,#d7ecba,#d5eabd,#d1e7c6,#cae1cc,#c1dad2,#b7d2d9,#aac9de,#9cbee2,#8fb5e5,#87b0e6)"></i><i style="background:linear-gradient(90deg,#d8edbc,#d8ecbb,#d7ecba,#d5eabd,#d1e7c6,#c9e1cc,#c1dad2,#b6d2d9,#a9c8de,#9abde2,#8eb4e5,#86afe6)"></i><i style="background:linear-gradient(90deg,#d8edbc,#d8edba,#d7ecb9,#d5eabc,#d0e7c5,#c9e0cb,#c0d9d1,#b5d1d9,#a8c7de,#99bce2,#8cb3e5,#84ade6)"></i><i style="background:linear-gradient(90deg,#d8edbb,#d8edb9,#d7ecb8,#d5eabb,#d0e6c5,#c8e0cb,#bfd9d1,#b4d0d9,#a6c6de,#98bbe2,#8ab2e5,#82ace6)"></i><i style="background:linear-gradient(90deg,#d8edba,#d8edb9,#d7ecb8,#d4eabb,#d0e6c4,#c8e0ca,#bed8d1,#b3d0d9,#a5c5de,#96bae2,#89b1e6,#81abe7)"></i><i style="background:linear-gradient(90deg,#d8eeba,#d8edb8,#d7ecb7,#d4eaba,#cfe6c4,#c7dfca,#bdd8d0,#b1cfd8,#a4c4de,#95b9e2,#87b0e6,#7faae7)"></i><i style="background:linear-gradient(90deg,#d8eeb9,#d8edb8,#d7ecb7,#d4eaba,#cfe6c3,#c7dfc9,#bcd7d0,#b0ced8,#a2c3de,#93b8e2,#86aee6,#7da8e7)"></i><i style="background:linear-gradient(90deg,#d8eeb8,#d8edb7,#d6ecb6,#d4eaba,#cee6c3,#c6dfc9,#bbd7d0,#afcdd8,#a1c2de,#92b7e2,#84ade6,#7ca7e7)"></i><i style="background:linear-gradient(90deg,#d8eeb8,#d7edb6,#d6ecb6,#d3eab9,#cee6c2,#c5dec8,#bbd6cf,#aeccd8,#a0c2dd,#90b6e2,#83ace6,#7aa6e8)"></i><i style="background:linear-gradient(90deg,#d8eeb7,#d7edb6,#d6ecb5,#d3eab9,#cee5c2,#c5dec8,#bad5cf,#adccd8,#9ec1dd,#8fb5e2,#81abe6,#78a5e8)"></i><i style="background:linear-gradient(90deg,#d8eeb6,#d7eeb5,#d6ecb5,#d3eab8,#cde5c1,#c4dec7,#b9d5cf,#abcbd8,#9dc0dd,#8db4e2,#80aae7,#77a4e8)"></i><i style="background:linear-gradient(90deg,#d8efb6,#d7eeb5,#d6ecb4,#d3eab8,#cde5c1,#c4dec7,#b8d4cf,#aacad7,#9cbfdd,#8cb3e2,#7ea9e7,#75a2e8)"></i><i style="background:linear-gradient(90deg,#d8efb5,#d7eeb4,#d6ecb4,#d2eab8,#cce5c0,#c3ddc7,#b7d4ce,#a9c9d7,#9abedd,#8bb2e2,#7da8e7,#73a1e8)"></i><i style="background:linear-gradient(90deg,#d8efb5,#d7eeb4,#d6ecb4,#d2e9b7,#cce5c0,#c2ddc6,#b6d3ce,#a8c8d7,#99bddd,#89b1e2,#7ba7e7,#72a0e9)"></i><i style="background:linear-gradient(90deg,#d8efb4,#d7eeb3,#d6ecb3,#d2e9b7,#cbe4c0,#c2ddc6,#b5d3ce,#a6c7d7,#97bcdd,#88b0e2,#7aa6e7,#709fe9)"></i><i style="background:linear-gradient(90deg,#d8efb4,#d7eeb3,#d5ecb3,#d2e9b7,#cbe4bf,#c1dcc5,#b4d2ce,#a5c6d7,#96bbdd,#86afe3,#78a5e7,#6f9ee9)"></i><i style="background:linear-gradient(90deg,#d8efb3,#d7eeb3,#d5ecb3,#d1e9b7,#cae4bf,#c0dcc5,#b3d1ce,#a4c6d7,#94badd,#85aee3,#77a4e7,#6d9de9)"></i><i style="background:linear-gradient(90deg,#d8efb3,#d7eeb2,#d5ecb3,#d1e9b6,#cae4be,#c0dcc5,#b2d1cd,#a2c5d7,#93b9dd,#83ade3,#75a3e8,#6b9cea)"></i><i style="background:linear-gradient(90deg,#d8efb2,#d7eeb2,#d5ecb2,#d1e9b6,#c9e3be,#bfdbc5,#b1d0cd,#a1c4d7,#91b8dd,#82ace3,#74a2e8,#6a9aea)"></i><i style="background:linear-gradient(90deg,#d8f0b2,#d7eeb2,#d5ecb2,#d0e9b6,#c9e3be,#bedbc4,#b0d0cd,#9fc3d7,#90b7dd,#80abe3,#72a1e8,#6899ea)"></i><i style="background:linear-gradient(90deg,#d8f0b2,#d7eeb1,#d4ecb2,#d0e8b6,#c8e3bd,#bedbc4,#afcfcd,#9ec2d7,#8eb6dd,#7faae3,#719fe8,#6698ea)"></i><i style="background:linear-gradient(90deg,#d8f0b1,#d7eeb1,#d4ecb2,#d0e8b6,#c8e2bd,#bddac4,#adcecd,#9dc1d7,#8db5dc,#7da9e3,#6f9ee8,#6597eb)"></i><i style="background:linear-gradient(90deg,#d8f0b1,#d7eeb1,#d4ecb2,#cfe8b6,#c7e2bd,#bcdac4,#accecd,#9bc0d7,#8bb4dc,#7ca8e3,#6d9de8,#6396eb)"></i><i style="background:linear-gradient(90deg,#d8f0b1,#d7eeb0,#d4ecb1,#cfe8b6,#c7e2bd,#bbd9c3,#abcdcd,#9abfd7,#8ab3dc,#7aa7e3,#6c9ce9,#6195eb)"></i><i style="background:linear-gradient(90deg,#d8f0b1,#d7eeb0,#d4ecb1,#cfe8b5,#c6e1bd,#bad9c3,#aacccd,#98bed7,#88b2dc,#79a6e3,#6a9be9,#6094ec)"></i><i style="background:linear-gradient(90deg,#d8f0b0,#d6eeb0,#d3ecb1,#cee7b5,#c6e1bc,#b9d8c3,#a9cbcd,#97bdd7,#87b1dc,#78a5e3,#699ae9,#5e93ec)"></i><i style="background:linear-gradient(90deg,#d8f0b0,#d6eeb0,#d3ecb1,#cee7b5,#c5e1bc,#b9d8c3,#a8cbcd,#96bcd7,#85b0dd,#76a4e4,#6799e9,#5d92ec)"></i><i style="background:linear-gradient(90deg,#d8f0b0,#d6eeb0,#d3ebb1,#cde7b5,#c4e0bc,#b8d7c3,#a6cacd,#94bbd7,#84afdd,#75a3e4,#6698e9,#5b91ec)"></i><i style="background:linear-gradient(90deg,#d8f0b0,#d6eeaf,#d3ebb1,#cde7b5,#c4e0bc,#b7d6c3,#a5c9cd,#93bad7,#82aedd,#73a2e4,#6497ea,#5990ed)"></i><i style="background:linear-gradient(90deg,#d8f0b0,#d6eeaf,#d2ebb1,#cde6b5,#c3dfbc,#b6d6c3,#a4c8cd,#91b9d7,#81addd,#72a1e4,#6396ea,#588fed)"></i><i style="background:linear-gradient(90deg,#d8f0af,#d6eeaf,#d2ebb1,#cce6b5,#c2dfbc,#b5d5c3,#a3c7cd,#90b8d8,#80acdd,#70a0e4,#6196ea,#568eed)"></i><i style="background:linear-gradient(90deg,#d8f0af,#d6eeaf,#d2ebb1,#cce6b5,#c2dfbc,#b4d4c3,#a1c6cd,#8fb7d8,#7eabdd,#6f9fe4,#6095ea,#558dee)"></i><i style="background:linear-gradient(90deg,#d8f0af,#d6eeaf,#d2ebb1,#cbe6b5,#c1debc,#b2d4c3,#a0c5ce,#8db7d8,#7daadd,#6e9ee5,#5f94ea,#538cee)"></i><i style="background:linear-gradient(90deg,#d8f0af,#d5eeaf,#d1ebb1,#cbe5b5,#c0debc,#b1d3c3,#9fc5ce,#8cb6d8,#7ca9de,#6c9de5,#5d93eb,#528bee)"></i><i style="background:linear-gradient(90deg,#d8f0af,#d5eeaf,#d1eab1,#cae5b5,#c0ddbb,#b0d2c3,#9dc4ce,#8ab5d8,#7aa8de,#6b9de5,#5c92eb,#508aee)"></i><i style="background:linear-gradient(90deg,#d8f0af,#d5eeaf,#d1eab1,#cae5b5,#bfddbb,#afd1c3,#9cc3ce,#89b4d8,#79a7de,#6a9ce5,#5a91eb,#4e89ef)"></i><i style="background:linear-gradient(90deg,#d8f0af,#d5eeaf,#d0eab1,#c9e4b5,#bedcbb,#aed1c3,#9bc2ce,#88b3d9,#77a6de,#689be5,#5990eb,#4d88ef)"></i><i style="background:linear-gradient(90deg,#d8f0ae,#d5eeaf,#d0eab1,#c9e4b5,#bddcbb,#add0c3,#99c1ce,#86b2d9,#76a5df,#679ae6,#578fec,#4b87ef)"></i><i style="background:linear-gradient(90deg,#d8f0ae,#d4edaf,#cfe9b1,#c8e4b5,#bddbbb,#accfc3,#98c0cf,#85b1d9,#75a4df,#6699e6,#568eec,#4a86ef)"></i><i style="background:linear-gradient(90deg,#d7f0ae,#d4edaf,#cfe9b1,#c8e3b5,#bcdbbc,#abcec3,#97bfcf,#84b0d9,#74a4df,#6498e6,#558dec,#4985f0)"></i><i style="background:linear-gradient(90deg,#d7f0ae,#d4edaf,#cfe9b1,#c7e3b5,#bbdabc,#a9cdc4,#95becf,#82afda,#72a3df,#6397e6,#538cec,#4784f0)"></i><i style="background:linear-gradient(90deg,#d7f0ae,#d4edaf,#cee9b1,#c6e3b5,#badabc,#a8cdc4,#94bdcf,#81aeda,#71a2e0,#6296e6,#528bec,#4683f0)"></i><i style="background:linear-gradient(90deg,#d7f0ae,#d3edaf,#cee8b1,#c6e2b5,#b9d9bc,#a7ccc4,#93bccf,#80adda,#70a1e0,#6096e7,#518bed,#4482f0)"></i><i style="background:linear-gradient(90deg,#d7f0ae,#d3edae,#cde8b1,#c5e2b6,#b9d8bc,#a6cbc4,#92bbcf,#7eacda,#6ea0e0,#5f95e7,#4f8aed,#4382f1)"></i><i style="background:linear-gradient(90deg,#d6efae,#d3ecae,#cde8b1,#c4e1b6,#b8d8bc,#a5cac4,#90bbd0,#7dabda,#6d9fe0,#5e94e7,#4e89ed,#4281f1)"></i><i style="background:linear-gradient(90deg,#d6efae,#d2ecae,#cce8b1,#c4e1b6,#b7d7bc,#a4c9c4,#8fbad0,#7cabda,#6c9ee1,#5d93e7,#4d88ed,#4080f1)"></i><i style="background:linear-gradient(90deg,#d6efae,#d2ecae,#cce7b1,#c3e0b6,#b6d7bc,#a3c9c4,#8eb9d0,#7baadb,#6b9ee1,#5b92e7,#4b87ed,#3f7ff1)"></i></div>
<div class="title">Successful Hashtag Sets<br>Combine Hashtags of Various<br>Sizes</div>
<div class="axis" style="left:117px;top:314px;width:2px;height:492px"></div>
<div class="axis" style="left:121px;top:805px;width:574px;height:2px"></div>
<svg style="position:absolute;left:0;top:0" width="819" height="1024">
<polygon points="118,311 114.5,316 121.5,316" fill="#2a3a56"/>
<polygon points="698,806 693,802.5 693,809.5" fill="#2a3a56"/>
</svg>
<div class="lab" style="left:81px;top:425px;font-size:23.6px;transform:rotate(-90deg);transform-origin:0 0;">Popularity</div>
<div class="lab" style="left:622px;top:814.5px;font-size:23.6px;">Variety</div>
<div class="c r" style="left:169px;top:323px">96.8%</div>
<div class="c y" style="left:343px;top:323px">99.2%</div>
<div class="c g" style="left:517px;top:323px">104.3%</div>
<div class="c r" style="left:169px;top:481px">95.8%</div>
<div class="c y" style="left:343px;top:481px">100.7%</div>
<div class="c g" style="left:517px;top:481px">104.3%</div>
<div class="c y" style="left:169px;top:640px">99.6%</div>
<div class="c y" style="left:343px;top:640px">100.9%</div>
<div class="c y" style="left:517px;top:640px">99.9%</div>
<div class="foot">Data: Analysis of 1.59M Instagram posts published during February/March 2026. © Fanpage Karma</div>
<svg class="icon" width="60" height="50" viewBox="0 0 60 50"><g stroke="#24344f" stroke-width="1.45" stroke-linecap="round"><line x1="16.8" y1="10.4" x2="9.3" y2="15.2"/><line x1="9.3" y1="15.2" x2="9.3" y2="24.4"/><line x1="9.3" y1="24.4" x2="19.0" y2="33.8"/><line x1="19.0" y1="33.8" x2="25.7" y2="41.8"/><line x1="25.7" y1="41.8" x2="32.1" y2="33.8"/><line x1="32.1" y1="33.8" x2="39.9" y2="27.8"/><line x1="39.9" y1="27.8" x2="44.5" y2="19.8"/><line x1="44.5" y1="19.8" x2="41.5" y2="13.1"/><line x1="41.5" y1="13.1" x2="34.3" y2="10.4"/><line x1="34.3" y1="10.4" x2="26.2" y2="14.7"/><line x1="26.2" y1="14.7" x2="16.8" y2="10.4"/><line x1="16.8" y1="10.4" x2="16.8" y2="17.6"/><line x1="9.3" y1="15.2" x2="16.8" y2="17.6"/><line x1="16.8" y1="17.6" x2="26.2" y2="14.7"/><line x1="16.8" y1="17.6" x2="9.3" y2="24.4"/><line x1="16.8" y1="17.6" x2="22.7" y2="23.5"/><line x1="9.3" y1="24.4" x2="22.7" y2="23.5"/><line x1="26.2" y1="14.7" x2="22.7" y2="23.5"/><line x1="26.2" y1="14.7" x2="34.6" y2="20.3"/><line x1="22.7" y1="23.5" x2="34.6" y2="20.3"/><line x1="34.3" y1="10.4" x2="34.6" y2="20.3"/><line x1="41.5" y1="13.1" x2="34.6" y2="20.3"/><line x1="44.5" y1="19.8" x2="34.6" y2="20.3"/><line x1="34.6" y1="20.3" x2="39.9" y2="27.8"/><line x1="34.6" y1="20.3" x2="32.1" y2="33.8"/><line x1="22.7" y1="23.5" x2="19.0" y2="33.8"/><line x1="22.7" y1="23.5" x2="32.1" y2="33.8"/><line x1="19.0" y1="33.8" x2="32.1" y2="33.8"/></g><g fill="#24344f"><circle cx="16.8" cy="10.4" r="1.9"/><circle cx="34.3" cy="10.4" r="1.9"/><circle cx="9.3" cy="15.2" r="1.9"/><circle cx="26.2" cy="14.7" r="1.9"/><circle cx="41.5" cy="13.1" r="1.9"/><circle cx="16.8" cy="17.6" r="2.4"/><circle cx="34.6" cy="20.3" r="2.4"/><circle cx="44.5" cy="19.8" r="1.9"/><circle cx="9.3" cy="24.4" r="1.9"/><circle cx="22.7" cy="23.5" r="2.4"/><circle cx="39.9" cy="27.8" r="1.9"/><circle cx="19.0" cy="33.8" r="2.4"/><circle cx="32.1" cy="33.8" r="2.4"/><circle cx="25.7" cy="41.8" r="1.9"/></g></svg>
<div class="logo">fanpage karma</div>
</body></html>
